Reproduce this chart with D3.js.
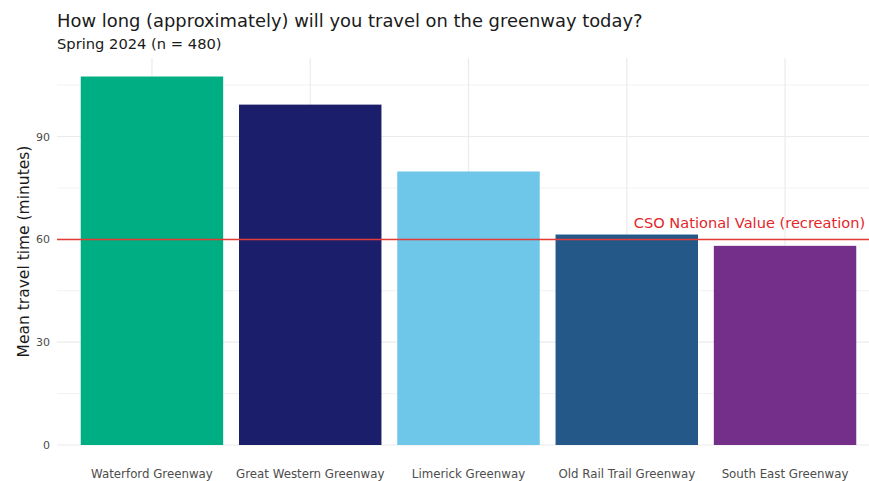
<!DOCTYPE html>
<html>
<head>
<meta charset="utf-8">
<script src="https://cdn.jsdelivr.net/npm/d3@7"></script>
<style>
  body { margin: 0; background: #fff; }
  svg { font-family: "DejaVu Sans", sans-serif; }
</style>
</head>
<body>
<svg id="chart" width="869" height="481"></svg>
<script>
// Chart data
const greenways = ["Waterford Greenway", "Great Western Greenway", "Limerick Greenway", "Old Rail Trail Greenway", "South East Greenway"];
const meanMinutes = [107.5, 99.3, 79.8, 61.4, 58.1];
const barColours = ["#00ae84", "#1b1f6b", "#6ec6e8", "#235888", "#732f8a"];
const yTicks = [0, 30, 60, 90];
const yMinorTicks = [15, 45, 75, 105];
const nationalValue = 60;

const svg = d3.select("#chart");
const margin = { left: 57, right: -11, top: 58, bottom: 36 };
const width = 869, height = 481;

// Scales (panel runs a little past the right edge, like the source)
const x = d3.scaleBand()
    .domain(greenways)
    .range([margin.left, width - margin.right])
    .paddingInner(0.1)
    .paddingOuter(0.15);
const y = d3.scaleLinear()
    .domain([0, 112.9])
    .range([height - margin.bottom, margin.top]);

// Grid
const grid = svg.append("g");
grid.selectAll(".minor")
    .data(yMinorTicks)
    .enter().append("line")
    .attr("x1", margin.left).attr("x2", width - margin.right)
    .attr("y1", d => y(d)).attr("y2", d => y(d))
    .attr("stroke", "#f2f2f2").attr("stroke-width", 1);
grid.selectAll(".major")
    .data(yTicks)
    .enter().append("line")
    .attr("x1", margin.left).attr("x2", width - margin.right)
    .attr("y1", d => y(d)).attr("y2", d => y(d))
    .attr("stroke", "#ebebeb").attr("stroke-width", 1.2);
grid.selectAll(".vert")
    .data(greenways)
    .enter().append("line")
    .attr("x1", d => x(d) + x.bandwidth() / 2).attr("x2", d => x(d) + x.bandwidth() / 2)
    .attr("y1", margin.top).attr("y2", height - margin.bottom)
    .attr("stroke", "#ebebeb").attr("stroke-width", 1.2);

// Bars
svg.append("g")
    .selectAll("rect")
    .data(greenways)
    .enter().append("rect")
    .attr("x", d => x(d))
    .attr("width", x.bandwidth())
    .attr("y", (d, i) => y(meanMinutes[i]))
    .attr("height", (d, i) => y(0) - y(meanMinutes[i]))
    .attr("fill", (d, i) => barColours[i]);

// Reference line + label
svg.append("line")
    .attr("x1", margin.left).attr("x2", width - margin.right)
    .attr("y1", Math.round(y(nationalValue)) + 0.5).attr("y2", Math.round(y(nationalValue)) + 0.5)
    .attr("stroke", "#e33b36").attr("stroke-width", 1.6);
svg.append("text")
    .attr("x", x("Old Rail Trail Greenway") + x.bandwidth() / 2 + 7)
    .attr("y", y(nationalValue) - 11)
    .attr("fill", "#e3262b")
    .attr("font-size", 14.6)
    .text("CSO National Value (recreation)");

// Y axis
const yAxis = svg.append("g")
    .attr("transform", `translate(${margin.left},0)`)
    .call(d3.axisLeft(y).tickValues(yTicks).tickSize(0).tickPadding(7));
yAxis.select(".domain").remove();
yAxis.selectAll("text").attr("fill", "#4d4d4d").attr("font-size", 11).attr("font-family", "DejaVu Sans");

// X axis
const xAxis = svg.append("g")
    .attr("transform", `translate(0,${height - margin.bottom})`)
    .call(d3.axisBottom(x).tickSize(0).tickPadding(25));
xAxis.select(".domain").remove();
xAxis.selectAll("text").attr("fill", "#4d4d4d").attr("font-size", 11.8).attr("font-family", "DejaVu Sans");

// Titles
svg.append("text")
    .attr("x", 57).attr("y", 27)
    .attr("font-size", 17.9).attr("fill", "#1a1a1a")
    .text("How long (approximately) will you travel on the greenway today?");
svg.append("text")
    .attr("x", 57).attr("y", 49)
    .attr("font-size", 14.7).attr("fill", "#1a1a1a")
    .text("Spring 2024 (n = 480)");
svg.append("text")
    .attr("transform", `translate(29,${(margin.top + height - margin.bottom) / 2}) rotate(-90)`)
    .attr("text-anchor", "middle")
    .attr("font-size", 15.5).attr("fill", "#1a1a1a")
    .text("Mean travel time (minutes)");
</script>
</body>
</html>
